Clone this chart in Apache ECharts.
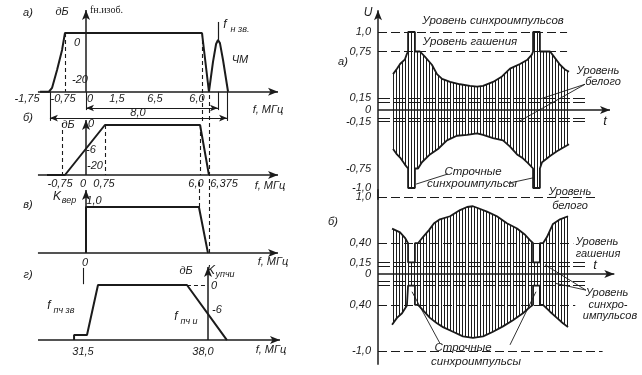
<!DOCTYPE html>
<html><head><meta charset="utf-8">
<script src="https://cdn.jsdelivr.net/npm/echarts@6.0.0/dist/echarts.min.js"></script>
<style>html,body{margin:0;padding:0;background:#fff}#c{width:642px;height:375px}</style>
</head><body><div id="c"></div>
<script>
// ================= DATA =================
// а) radio-signal spectrum: f, MHz ; level, dB
const aVisionF  = [-2.38, -1.92, -1.76, -1.50, -1.24, -1.09, 6.01, 6.37];
const aVisionDb = [-25, -25, -23.4, -15.7, -7.2, 0, 0, -25];
const aSoundF   = [6.37, 6.58, 6.74, 6.84, 6.94, 7.10, 7.36];
const aSoundDb  = [-25, -12.3, -4.7, -3.0, -4.3, -11.5, -25];
// б) vestigial-sideband characteristic
const bF  = [-2.02, -1.09, 0.98, 5.91, 6.37];
const bDb = [-20, -20, 0, 0, -20];
// в) K вер
const vF = [0, 0, 5.85, 6.32];
const vK = [0, 1.0, 1.0, 0];
// г) K упчи
const gF  = [31.06, 31.06, 31.73, 32.30, 36.91, 38.98];
const gDb = [-13.2, -12.0, -12.0, 0, 0, -13.2];

// right а): envelope of the modulated signal (t, µs ; U)
const rATopT = [7.7, 9.7, 11.3, 13.8, 14.8, 15.4, 15.4, 18.9, 18.9, 21.5, 24.1, 27.6, 30.2, 32.8, 36.9, 42.0, 47.1, 50.7, 53.8, 58.9, 63.5, 67.6, 72.7, 76.3, 78.8, 79.4, 79.4, 82.9, 82.9, 88.1, 89.6, 93.2, 95.7, 97.8];
const rATopU = [0.46, 0.53, 0.59, 0.65, 0.72, 0.75, 1.0, 1.0, 0.75, 0.75, 0.68, 0.58, 0.46, 0.40, 0.36, 0.33, 0.31, 0.30, 0.31, 0.36, 0.43, 0.53, 0.59, 0.64, 0.71, 0.75, 1.0, 1.0, 0.75, 0.75, 0.70, 0.58, 0.52, 0.49];
const rABotT = [7.7, 9.7, 11.3, 13.8, 15.4, 15.4, 18.9, 18.9, 20.5, 22.5, 26.6, 30.7, 35.3, 40.4, 45.6, 50.7, 53.8, 58.9, 64.0, 67.6, 71.2, 74.2, 76.8, 79.4, 79.4, 82.9, 82.9, 84.0, 88.1, 91.6, 97.8];
const rABotU = [-0.50, -0.57, -0.61, -0.70, -0.75, -1.0, -1.0, -0.75, -0.75, -0.67, -0.57, -0.50, -0.39, -0.33, -0.32, -0.30, -0.32, -0.36, -0.39, -0.47, -0.57, -0.62, -0.68, -0.75, -1.0, -1.0, -0.75, -0.67, -0.59, -0.53, -0.44];
// right б)
const rBTopT = [7.2, 11.3, 13.8, 15.4, 15.4, 18.9, 18.9, 20.5, 23.0, 26.1, 28.7, 31.7, 36.9, 42.0, 45.6, 48.6, 50.7, 55.8, 60.9, 66.0, 71.2, 75.3, 77.8, 79.4, 79.4, 82.9, 82.9, 84.5, 86.5, 89.6, 93.2, 97.3];
const rBTopU = [0.59, 0.54, 0.47, 0.40, 0.15, 0.15, 0.40, 0.40, 0.48, 0.57, 0.66, 0.71, 0.75, 0.83, 0.87, 0.88, 0.86, 0.81, 0.75, 0.66, 0.59, 0.51, 0.44, 0.40, 0.15, 0.15, 0.40, 0.40, 0.48, 0.65, 0.71, 0.75];
const rBBotT = [7.2, 9.7, 12.3, 14.8, 15.4, 15.4, 18.9, 18.9, 20.5, 23.0, 26.6, 30.2, 33.3, 38.4, 43.5, 48.6, 53.8, 58.9, 64.0, 69.1, 74.2, 77.8, 79.4, 79.4, 82.9, 82.9, 84.5, 88.1, 91.6, 94.7, 97.3];
const rBBotU = [-0.66, -0.57, -0.51, -0.41, -0.40, -0.15, -0.15, -0.40, -0.40, -0.47, -0.57, -0.64, -0.69, -0.75, -0.81, -0.83, -0.81, -0.75, -0.68, -0.60, -0.51, -0.43, -0.40, -0.15, -0.15, -0.40, -0.40, -0.49, -0.57, -0.64, -0.69];

// tick labels
const aTickLabels = ['-1,75', '-0,75', '0', '1,5', '6,5', '6,0'];
const aDbLabels = ['0', '-20'];
const bTickLabels = ['-0,75', '0', '0,75', '6,0', '6,375'];
const bDbLabels = ['0', '-6', '-20'];
const vLabels = ['1,0', '0'];
const gTickLabels = ['31,5', '38,0'];
const gDbLabels = ['0', '-6'];
const rATickValues = [1.0, 0.75, 0.15, 0, -0.15, -0.75, -1.0];
const rATickLabels = ['1,0', '0,75', '0,15', '0', '-0,15', '-0,75', '-1,0'];
const rBTickValues = [1.0, 0.40, 0.15, 0, -0.40, -1.0];
const rBTickLabels = ['1,0', '0,40', '0,15', '0', '0,40', '-1,0'];

// ================= LAYOUT / STYLE =================
const INK = '#1b1b1b';
const FAM = '"Liberation Sans","DejaVu Sans",sans-serif';

function mkGrid(x0, kx, xmin, xmax, y0, ky, ymin, ymax) {
  return {
    grid: { left: x0 + kx * xmin, top: y0 - ky * ymax, width: kx * (xmax - xmin), height: ky * (ymax - ymin), containLabel: false, outerBoundsMode: 'none' },
    x: [xmin, xmax], y: [ymin, ymax]
  };
}
const G = [
  mkGrid(86, 19.3, -3.5, 11, 33, 2.35, -40, 12),       // а
  mkGrid(86, 19.3, -3.5, 11, 125, 2.5, -52.5, 12.5),    // б
  mkGrid(86, 19.3, -3.5, 11, 253, 46, -0.4, 1.7),       // в
  mkGrid(208 - 19.3 * 38, 19.3, 28, 42.5, 285, 4.17, -16, 6), // г
  mkGrid(378, 1.953, 0, 125, 110, 78, -1.15, 1.4),      // right а
  mkGrid(378, 1.953, 0, 125, 274, 77, -1.3, 1.1)        // right б
];

function L(x1, y1, x2, y2, o) {
  o = o || {};
  const ls = { color: INK, width: o.w || 1.1, type: o.dash || 'solid' };
  return [
    { coord: [x1, y1], symbol: o.a1 ? 'arrow' : 'none', symbolSize: o.as || [6, 10], lineStyle: ls },
    { coord: [x2, y2], symbol: o.a2 ? 'arrow' : 'none', symbolSize: o.as || [6, 10] }
  ];
}
const D = [4, 3], D2 = [9, 4], D3 = [12, 3];
function ml(data) {
  return { silent: true, animation: false, symbol: ['none', 'none'], label: { show: false }, emphasis: { disabled: true }, lineStyle: { color: INK, width: 1.1 }, data };
}
function curve(i, xs, ys, extra) {
  return Object.assign({
    type: 'line', xAxisIndex: i, yAxisIndex: i,
    data: xs.map((x, k) => [x, ys[k]]),
    symbol: 'none', lineStyle: { color: INK, width: 2 },
    silent: true, animation: false, clip: false, z: 3
  }, extra || {});
}

// hatch pattern for the oscillograms
const hatch = document.createElement('canvas');
hatch.width = 3; hatch.height = 4;
const hc = hatch.getContext('2d');
hc.fillStyle = '#1b1b1b'; hc.fillRect(0, 0, 1, 4);
const hatchArea = { color: { image: hatch, repeat: 'repeat' }, opacity: 1, origin: 'auto' };

const series = [
  curve(0, aVisionF, aVisionDb, { markLine: ml([
    L(0, -25, 0, 9.8, { a2: 1, w: 1.5 }),
    L(-2.49, -25, 9.95, -25, { a2: 1, w: 1.5 }),
    L(-1.09, 0, -1.09, -25, { dash: D }),
    L(6.01, 0, 6.01, -37.9, { dash: D }),
    L(6.84, -3, 6.84, 4.7, { w: 1.2 }),
    L(-1.87, -25, -1.87, -37.4),
    L(7.31, -25, 7.31, -37.4),
    L(6.84, -25, 6.84, -32.8),
    L(0, -25, 0, -32.8),
    L(0, -31.9, 6.84, -31.9, { a1: 1, a2: 1, as: [5, 8] }),
    L(-1.87, -36.2, 7.31, -36.2, { a1: 1, a2: 1, as: [5, 8] })
  ]) }),
  curve(0, aSoundF, aSoundDb),
  curve(1, bF, bDb, { markLine: ml([
    L(0, -20, 0, 2, { a2: 1, w: 1.5 }),
    L(-2.49, -20, 9.95, -20, { a2: 1, w: 1.5 }),
    L(-1.24, 0.8, -1.24, -21.2, { dash: D }),
    L(0.98, 0, 0.98, -20, { dash: D }),
    L(5.91, 0, 5.91, -20, { dash: D }),
    L(6.37, 12, 6.37, -51.2, { dash: D })
  ]) }),
  curve(2, vF, vK, { markLine: ml([
    L(0, 0, 0, 1.37, { a2: 1, w: 1.5 }),
    L(-2.49, 0, 9.95, 0, { a2: 1, w: 1.5 }),
    L(5.85, 1.0, 5.85, 1.59, { dash: D })
  ]) }),
  curve(3, gF, gDb, { markLine: ml([
    L(38, -13.2, 38, 4.3, { a2: 1, w: 1.5 }),
    L(29.19, -13.2, 41.73, -13.2, { a2: 1, w: 1.5 }),
    L(36.91, 0, 38, 0, { dash: D }),
    L(31.52, 4.1, 31.52, 0.2)
  ]) }),
  curve(4, rATopT, rATopU, { areaStyle: hatchArea, lineStyle: { color: INK, width: 1.8 }, markLine: ml([
    L(0, -1.15, 0, 1.28, { a2: 1, w: 1.5 }),
    L(0, 0, 118.8, 0, { a2: 1, w: 1.5 }),
    L(0, 1, 96.8, 1, { dash: D2 }),
    L(0, 0.75, 96.8, 0.75, { dash: D2 }),
    L(0, 0.15, 107, 0.15, { dash: D3 }),
    L(0, 0.10, 107, 0.10, { dash: D3 }),
    L(0, -0.10, 107, -0.10, { dash: D3 }),
    L(0, -0.15, 107, -0.15, { dash: D3 }),
    L(106, 0.33, 82.9, 0.14, { w: 0.9 }),
    L(106, 0.33, 72.7, -0.14, { w: 0.9 }),
    L(35.8, -0.82, 19.5, -0.95, { w: 0.9 }),
    L(66.6, -0.94, 79.4, -0.87, { w: 0.9 })
  ]) }),
  curve(4, rABotT, rABotU, { areaStyle: hatchArea, lineStyle: { color: INK, width: 1.8 } }),
  curve(5, rBTopT, rBTopU, { areaStyle: hatchArea, lineStyle: { color: INK, width: 1.8 }, markLine: ml([
    L(0, 1.1, 0, -1.18, { w: 1.5 }),
    L(0, 0, 121, 0, { a2: 1, w: 1.5 }),
    L(0, 1, 112, 1, { dash: D2 }),
    L(0, 0.40, 100, 0.40, { dash: D2 }),
    L(0, -0.40, 101, -0.40, { dash: D2 }),
    L(0, -1, 115, -1, { dash: D2 }),
    L(0, 0.15, 107, 0.15, { dash: D3 }),
    L(0, 0.10, 107, 0.10, { dash: D3 }),
    L(0, -0.10, 107, -0.10, { dash: D3 }),
    L(0, -0.15, 107, -0.15, { dash: D3 }),
    L(106.5, -0.21, 85.5, 0.12, { w: 0.9 }),
    L(106.5, -0.21, 90.6, -0.12, { w: 0.9 }),
    L(17.4, -0.23, 31.7, -0.90, { w: 0.9 }),
    L(80.9, -0.23, 67.6, -0.92, { w: 0.9 })
  ]) }),
  curve(5, rBBotT, rBBotU, { areaStyle: hatchArea, lineStyle: { color: INK, width: 1.8 } })
];

const labelStyle = { fontStyle: 'italic', fontSize: 11, fontFamily: FAM, color: INK, margin: 7 };
function pick(vals, labs) {
  return v => { let k = 0; vals.forEach((w, i) => { if (Math.abs(w - v) < Math.abs(vals[k] - v)) k = i; }); return labs[k]; };
}
const xAxis = G.map((g, i) => ({ gridIndex: i, type: 'value', min: g.x[0], max: g.x[1], show: false }));
const yAxis = G.map((g, i) => {
  const base = { gridIndex: i, type: 'value', min: g.y[0], max: g.y[1] };
  if (i < 4) return Object.assign(base, { show: false });
  const vals = i === 4 ? rATickValues : rBTickValues;
  const labs = i === 4 ? rATickLabels : rBTickLabels;
  return Object.assign(base, {
    axisLine: { show: false }, axisTick: { show: false }, splitLine: { show: false },
    axisLabel: Object.assign({ customValues: vals, formatter: pick(vals, labs) }, labelStyle)
  });
});

function T(x, y, text, o) {
  o = o || {};
  return { type: 'text', x, y, silent: true, z: 100,
    style: { text, fill: INK, font: (o.up ? '' : 'italic ') + (o.size || 11) + 'px ' + (o.fam || FAM), align: o.align || 'center', verticalAlign: 'middle' } };
}
const texts = [
  // left а
  T(28, 13, 'а)'), T(62, 12, 'дБ'), T(90, 10, 'fн.изоб.', { up: 1, align: 'left', size: 10, fam: '"Liberation Serif","DejaVu Serif",serif' }),
  T(77, 43, aDbLabels[0]), T(80, 80, aDbLabels[1]),
  T(225, 25, 'f', { size: 12 }), T(240, 29, 'н зв.', { size: 9 }), T(240, 60, 'ЧМ'),
  T(27, 99, aTickLabels[0]), T(63, 99, aTickLabels[1]), T(90, 99, aTickLabels[2]),
  T(117, 99, aTickLabels[3]), T(155, 99, aTickLabels[4]), T(197, 99, aTickLabels[5]),
  T(268, 110, 'f, МГц'), T(138, 113, '8,0'),
  // left б
  T(28, 118, 'б)'), T(68, 125, 'дБ'), T(91, 124, bDbLabels[0]), T(91, 150, bDbLabels[1]), T(95, 166, bDbLabels[2]),
  T(60, 184, bTickLabels[0]), T(83, 184, bTickLabels[1]), T(104, 184, bTickLabels[2]),
  T(196, 184, bTickLabels[3]), T(224, 184, bTickLabels[4]), T(270, 186, 'f, МГц'),
  // left в
  T(28, 205, 'в)'), T(57, 197, 'K', { size: 12 }), T(69, 200, 'вер', { size: 9 }),
  T(94, 201, vLabels[0]), T(85, 263, vLabels[1]), T(273, 262, 'f, МГц'),
  // left г
  T(28, 275, 'г)'), T(186, 271, 'дБ'), T(211, 271, 'K', { size: 12 }), T(225, 274, 'упчи', { size: 9 }),
  T(214, 286, gDbLabels[0]), T(217, 310, gDbLabels[1]),
  T(49, 306, 'f', { size: 12 }), T(64, 310, 'пч зв', { size: 9 }),
  T(176, 317, 'f', { size: 12 }), T(189, 321, 'пч и', { size: 9 }),
  T(83, 352, gTickLabels[0]), T(203, 352, gTickLabels[1]), T(271, 350, 'f, МГц'),
  // right а
  T(368, 13, 'U', { size: 12 }), T(343, 62, 'а)'),
  T(493, 21, 'Уровень синхроимпульсов', { size: 11.5 }), T(470, 42, 'Уровень гашения', { size: 11.5 }),
  T(598, 71, 'Уровень'), T(603, 82, 'белого'), T(605, 121, 't', { size: 13 }),
  T(473, 172, 'Строчные', { size: 11.5 }), T(472, 184, 'синхроимпульсы', { size: 11.5 }),
  T(570, 192, 'Уровень'), T(570, 206, 'белого'),
  // right б
  T(333, 222, 'б)'), T(597, 242, 'Уровень'), T(598, 254, 'гашения'), T(595, 265, 't', { size: 13 }),
  T(607, 293, 'Уровень'), T(608, 305, 'синхро-'), T(610, 316, 'импульсов'),
  T(463, 348, 'Строчные', { size: 11.5 }), T(476, 362, 'синхроимпульсы', { size: 11.5 })
];

const chart = echarts.init(document.getElementById('c'), null, { renderer: 'canvas', width: 642, height: 375 });
chart.setOption({
  backgroundColor: '#ffffff',
  animation: false,
  grid: G.map(g => g.grid),
  xAxis, yAxis, series,
  graphic: texts
});
</script>
</body></html>
